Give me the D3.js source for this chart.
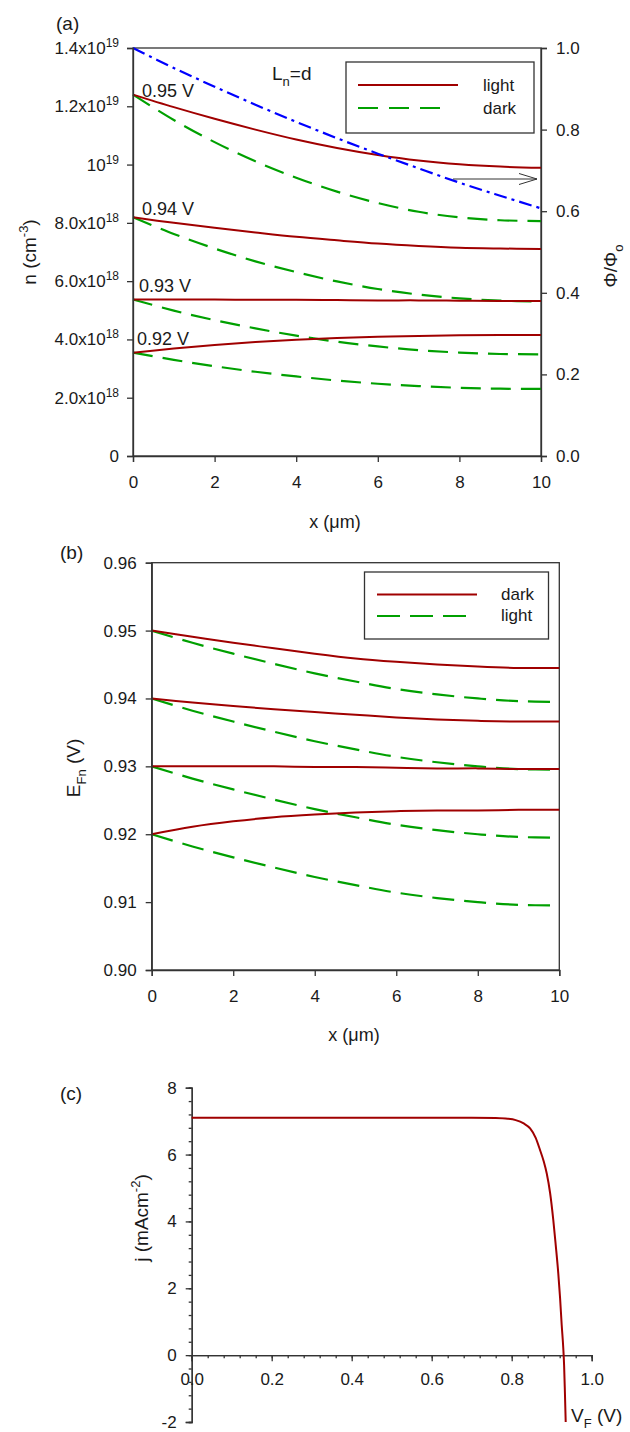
<!DOCTYPE html>
<html><head><meta charset="utf-8">
<script src="https://cdn.jsdelivr.net/npm/d3@7"></script>
<style>
body{margin:0;background:#fff}
text{font-family:"Liberation Sans",Arial,Helvetica,sans-serif;fill:#1a1a1a}
</style>
</head><body>
<svg id="chart" width="630" height="1432"></svg>
<script>
// ---------- DATA ----------
const xPos = [0,1,2,3,4,5,6,7,8,9,10];           // x (µm)
// Panel (a): electron density n, in units of 1e19 cm^-3
const nLight095 = [1.240,1.197,1.157,1.120,1.086,1.057,1.033,1.014,1.001,0.993,0.989];
const nLight094 = [0.819,0.800,0.783,0.767,0.752,0.740,0.729,0.721,0.715,0.712,0.710];
const nLight093 = [0.537,0.537,0.537,0.536,0.536,0.535,0.534,0.534,0.533,0.532,0.532];
const nLight092 = [0.3545,0.369,0.381,0.391,0.399,0.405,0.409,0.412,0.414,0.415,0.415];
const nDark095  = [1.240,1.153,1.077,1.011,0.955,0.907,0.868,0.838,0.819,0.809,0.806];
const nDark094  = [0.819,0.762,0.712,0.668,0.631,0.599,0.573,0.554,0.541,0.533,0.530];
const nDark093  = [0.537,0.499,0.466,0.438,0.413,0.392,0.376,0.363,0.355,0.350,0.349];
const nDark092  = [0.3545,0.330,0.308,0.289,0.273,0.259,0.248,0.240,0.234,0.231,0.230];
const phiRatio  = [1.000,0.951,0.905,0.861,0.819,0.779,0.741,0.705,0.670,0.638,0.607];
const voltLabels = ["0.95 V","0.94 V","0.93 V","0.92 V"];
const nTickValues = [0,0.2,0.4,0.6,0.8,1.0,1.2,1.4];
const nTickMant = ["0","2.0x10","4.0x10","6.0x10","8.0x10","10","1.2x10","1.4x10"];
const nTickExp  = ["","18","18","18","18","19","19","19"];
const phiTicks = [0,0.2,0.4,0.6,0.8,1.0];
const xTicks = [0,2,4,6,8,10];
const legendA = ["light","dark"];
// Panel (b): quasi-Fermi level E_Fn (V)
const eSolid095 = [0.9500,0.9491,0.9482,0.9474,0.9466,0.9459,0.9454,0.9450,0.9447,0.9445,0.9445];
const eSolid094 = [0.9400,0.9394,0.9389,0.9384,0.9380,0.9376,0.9372,0.9369,0.9367,0.9366,0.9366];
const eSolid093 = [0.9300,0.9300,0.9300,0.9300,0.9299,0.9299,0.9298,0.9297,0.9297,0.9296,0.9296];
const eSolid092 = [0.9200,0.9211,0.9219,0.9225,0.9229,0.9232,0.9234,0.9235,0.9235,0.9236,0.9236];
const eDash095  = [0.9500,0.9482,0.9466,0.9451,0.9437,0.9425,0.9414,0.9406,0.9400,0.9396,0.9395];
const eDash094  = [0.9400,0.9382,0.9366,0.9351,0.9337,0.9325,0.9314,0.9306,0.9300,0.9296,0.9295];
const eDash093  = [0.9300,0.9282,0.9266,0.9251,0.9237,0.9225,0.9214,0.9206,0.9200,0.9196,0.9195];
const eDash092  = [0.9200,0.9182,0.9166,0.9151,0.9137,0.9125,0.9114,0.9106,0.9100,0.9096,0.9095];
const eTicks = [0.90,0.91,0.92,0.93,0.94,0.95,0.96];
const legendB = ["dark","light"];
// Panel (c): j-V curve
const vF = [0,0.2,0.4,0.6,0.7,0.76,0.79,0.81,0.83,0.846,0.86,0.871,0.88,0.8875,0.896,0.904,0.91,0.9165,0.921,0.925,0.929,0.931,0.933,0.935];
const jV = [7.1,7.1,7.1,7.1,7.1,7.09,7.07,7.03,6.93,6.78,6.5,6.13,5.8,5.44,4.85,4.04,3.3,2.44,1.7,0.9,0.2,-0.3,-1.1,-2.0];
const jTicks = [-2,0,2,4,6,8];
const vTicks = [0,0.2,0.4,0.6,0.8,1.0];

// ---------- STYLE ----------
const RED = "#a00000", GREEN = "#00a000", BLUE = "#0000ff", AX = "#333";
const FS = "17px";
const svg = d3.select("#chart");

function styleAxis(g){
  g.select(".domain").attr("stroke",AX).attr("stroke-width",1.3);
  g.selectAll(".tick line").attr("stroke",AX).attr("stroke-width",1.3);
  g.selectAll(".tick text").attr("fill","#1a1a1a").style("font-size",FS)
   .style("font-family","'Liberation Sans',Arial,sans-serif");
}
function xLabelsBaseline(g, off){ g.selectAll(".tick text").attr("y",off).attr("dy",0); }
function drawLine(g, xs, ys, xS, yS, color, dash, w){
  const line = d3.line().x((d,i)=>xS(xs[i])).y(d=>yS(d)).curve(d3.curveCatmullRom.alpha(0.5));
  g.append("path").datum(ys).attr("d",line).attr("fill","none")
   .attr("stroke",color).attr("stroke-width",w||2).attr("stroke-dasharray",dash||null);
}
function rotText(x,y,parts,fs){
  const t = svg.append("text").attr("transform",`translate(${x},${y}) rotate(-90)`)
    .attr("text-anchor","middle").style("font-size",(fs||19)+"px");
  parts.forEach(p=>{
    const s = t.append("tspan").text(p.t);
    if(p.sup){ s.attr("dy",-8).style("font-size","13px"); }
    if(p.sub){ s.attr("dy",6).style("font-size","13px"); }
    if(p.back){ s.attr("dy",p.back); }
  });
  return t;
}

// ---------- PANEL (a) ----------
const xA = d3.scaleLinear().domain([0,10]).range([133,541]);
const yA = d3.scaleLinear().domain([0,1.4]).range([456,48]);
const yPhi = d3.scaleLinear().domain([0,1]).range([456,48]);
const gA = svg.append("g");
gA.append("rect").attr("x",xA(0)).attr("y",yA(1.4)).attr("width",xA(10)-xA(0)).attr("height",yA(0)-yA(1.4))
  .attr("fill","none").attr("stroke",AX).attr("stroke-width",1.3);

const lightA = [nLight095,nLight094,nLight093,nLight092];
const darkA = [nDark095,nDark094,nDark093,nDark092];
darkA.forEach(s=>drawLine(gA,xPos,s,xA,yA,GREEN,"20,10",2.2));
lightA.forEach(s=>drawLine(gA,xPos,s,xA,yA,RED,null,2));
drawLine(gA,xPos,phiRatio,xA,yPhi,BLUE,"13,5,3,5",2.2);

// axes (a)
const axLA = gA.append("g").attr("transform",`translate(${xA(0)},0)`)
  .call(d3.axisLeft(yA).tickValues(nTickValues).tickSize(6).tickPadding(8).tickFormat(""));
styleAxis(axLA);
axLA.selectAll(".tick text").each(function(d,i){
  const t = d3.select(this); t.text(null);
  t.append("tspan").text(nTickMant[i]);
  if(nTickExp[i]) t.append("tspan").text(nTickExp[i]).attr("dy",-7).style("font-size","12px");
});
const axRA = gA.append("g").attr("transform",`translate(${xA(10)},0)`)
  .call(d3.axisRight(yPhi).tickValues(phiTicks).tickSize(6).tickPadding(9).tickFormat(d3.format(".1f")));
styleAxis(axRA);
const axBA = gA.append("g").attr("transform",`translate(0,${yA(0)})`)
  .call(d3.axisBottom(xA).tickValues(xTicks).tickSize(6).tickFormat(d3.format("d")));
styleAxis(axBA); xLabelsBaseline(axBA,32);

// curve labels (offsets are layout only)
const labelDx = [9,9,6,4], labelDy = [-2,2,8,8];
voltLabels.forEach((lab,i)=>{
  const s = lightA[i];
  gA.append("text").attr("x",xA(0)+labelDx[i]).attr("y",yA(s[0])-labelDy[i]).text(lab).style("font-size","18px");
});
// Ln=d
const ln = gA.append("text").attr("x",272).attr("y",80).style("font-size","19px");
ln.append("tspan").text("L");
ln.append("tspan").text("n").attr("dy",6).style("font-size","13px");
ln.append("tspan").text("=d").attr("dy",-6);
// arrow
gA.append("line").attr("x1",453).attr("x2",537).attr("y1",179).attr("y2",179).attr("stroke",AX).attr("stroke-width",1);
gA.append("path").attr("d","M519,173.5 L537,179 L519,184.5").attr("fill","none").attr("stroke",AX).attr("stroke-width",1);
// legend (a)
gA.append("rect").attr("x",346).attr("y",62).attr("width",188).attr("height",71)
  .attr("fill","#fff").attr("stroke",AX).attr("stroke-width",1.3);
gA.append("line").attr("x1",358).attr("x2",458).attr("y1",85).attr("y2",85).attr("stroke",RED).attr("stroke-width",2);
gA.append("line").attr("x1",358).attr("x2",450).attr("y1",108).attr("y2",108).attr("stroke",GREEN).attr("stroke-width",2.2).attr("stroke-dasharray","20,11");
gA.append("text").attr("x",483).attr("y",91).text(legendA[0]).style("font-size","17px");
gA.append("text").attr("x",483).attr("y",114).text(legendA[1]).style("font-size","17px");
// titles (a)
svg.append("text").attr("x",56).attr("y",30).text("(a)").style("font-size","19px");
svg.append("text").attr("x",335).attr("y",528).attr("text-anchor","middle").style("font-size","18px").text("x (μm)");
rotText(36,252,[{t:"n (cm"},{t:"-3",sup:true},{t:")",back:8}]);
rotText(617,266,[{t:"Φ/Φ"},{t:"o",sub:true}]);

// ---------- PANEL (b) ----------
const xB = d3.scaleLinear().domain([0,10]).range([151.7,559.3]);
const yB = d3.scaleLinear().domain([0.90,0.96]).range([970,562.7]);
const gB = svg.append("g");
gB.append("rect").attr("x",xB(0)).attr("y",yB(0.96)).attr("width",xB(10)-xB(0)).attr("height",yB(0.90)-yB(0.96))
  .attr("fill","none").attr("stroke",AX).attr("stroke-width",1.3);
[eDash095,eDash094,eDash093,eDash092].forEach(s=>drawLine(gB,xPos,s,xB,yB,GREEN,"22,10",2.2));
[eSolid095,eSolid094,eSolid093,eSolid092].forEach(s=>drawLine(gB,xPos,s,xB,yB,RED,null,2));
const axLB = gB.append("g").attr("transform",`translate(${xB(0)},0)`)
  .call(d3.axisLeft(yB).tickValues(eTicks).tickSize(6).tickPadding(9).tickFormat(d3.format(".2f")));
styleAxis(axLB);
const axBB = gB.append("g").attr("transform",`translate(0,${yB(0.90)})`)
  .call(d3.axisBottom(xB).tickValues(xTicks).tickSize(6).tickFormat(d3.format("d")));
styleAxis(axBB); xLabelsBaseline(axBB,32);
gB.append("rect").attr("x",364.5).attr("y",572).attr("width",184).attr("height",67)
  .attr("fill","#fff").attr("stroke",AX).attr("stroke-width",1.3);
gB.append("line").attr("x1",377).attr("x2",477).attr("y1",594.5).attr("y2",594.5).attr("stroke",RED).attr("stroke-width",2);
gB.append("line").attr("x1",377).attr("x2",470).attr("y1",616).attr("y2",616).attr("stroke",GREEN).attr("stroke-width",2.2).attr("stroke-dasharray","23,10");
gB.append("text").attr("x",501).attr("y",600).text(legendB[0]).style("font-size","17px");
gB.append("text").attr("x",501).attr("y",621).text(legendB[1]).style("font-size","17px");
svg.append("text").attr("x",60).attr("y",559).text("(b)").style("font-size","19px");
svg.append("text").attr("x",354).attr("y",1041).attr("text-anchor","middle").style("font-size","18px").text("x (μm)");
rotText(80,768,[{t:"E"},{t:"Fn",sub:true},{t:" (V)",back:-6}]);

// ---------- PANEL (c) ----------
const xC = d3.scaleLinear().domain([0,1]).range([191.7,591.7]);
const yC = d3.scaleLinear().domain([-2,8]).range([1422,1087.7]);
const gC = svg.append("g");
// minor ticks
const minorJ = d3.range(0,26).map(i=>-2+i*0.4);
const minorV = d3.range(0,26).map(i=>i*0.04);
const axLCm = gC.append("g").attr("transform",`translate(${xC(0)},0)`)
  .call(d3.axisLeft(yC).tickValues(minorJ).tickSize(3).tickFormat(""));
styleAxis(axLCm);
const axBCm = gC.append("g").attr("transform",`translate(0,${yC(0)})`)
  .call(d3.axisBottom(xC).tickValues(minorV).tickSize(3).tickFormat(""));
styleAxis(axBCm);
const axLC = gC.append("g").attr("transform",`translate(${xC(0)},0)`)
  .call(d3.axisLeft(yC).tickValues(jTicks).tickSize(6).tickPadding(9).tickFormat(d3.format("d")));
styleAxis(axLC);
axLC.selectAll(".tick text").text(d=>d<0?"-"+Math.abs(d):d);
const axBC = gC.append("g").attr("transform",`translate(0,${yC(0)})`)
  .call(d3.axisBottom(xC).tickValues(vTicks).tickSize(6).tickFormat(d3.format(".1f")));
styleAxis(axBC); xLabelsBaseline(axBC,30);
const lineC = d3.line().x((d,i)=>xC(vF[i])).y(d=>yC(d)).curve(d3.curveMonotoneX);
gC.append("path").datum(jV).attr("d",lineC).attr("fill","none").attr("stroke",RED).attr("stroke-width",2);
svg.append("text").attr("x",60).attr("y",1100).text("(c)").style("font-size","19px");
const vt = svg.append("text").attr("x",571).attr("y",1422).style("font-size","19px");
vt.append("tspan").text("V");
vt.append("tspan").text("F").attr("dy",6).style("font-size","13px");
vt.append("tspan").text(" (V)").attr("dy",-6);
rotText(148,1218,[{t:"j (mAcm"},{t:"-2",sup:true},{t:")",back:8}]);
</script>
</body></html>
